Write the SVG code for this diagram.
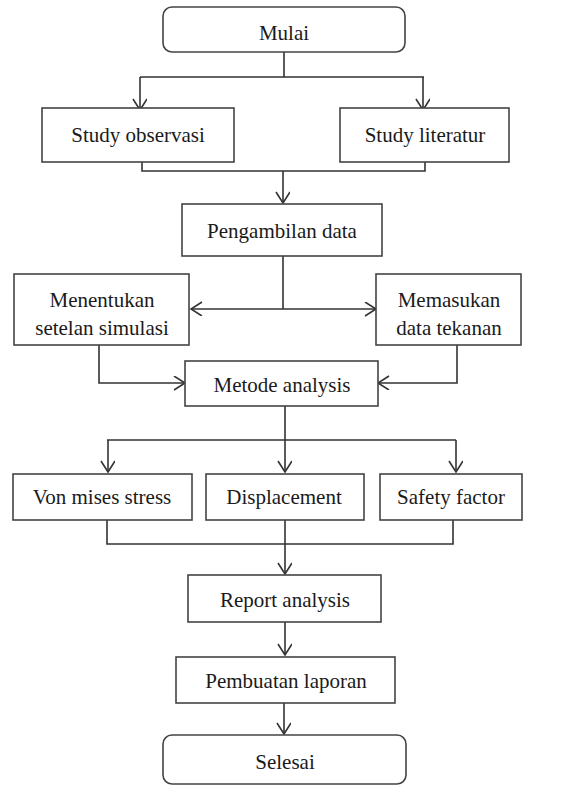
<svg xmlns="http://www.w3.org/2000/svg" width="577" height="787" viewBox="0 0 577 787">
<defs>
<marker id="arr" markerWidth="16" markerHeight="16" refX="12" refY="7" orient="auto" markerUnits="userSpaceOnUse">
<path d="M1,0 L12,7 L1,14" fill="none" stroke="#333" stroke-width="1.6"/>
</marker>
<style>
.box{fill:#fff;stroke:#444;stroke-width:1.6}
.t{font-family:"Liberation Serif",serif;font-size:21px;fill:#1a1a1a;text-anchor:middle}
.c{fill:none;stroke:#333;stroke-width:1.6}
</style>
</defs>
<rect width="577" height="787" fill="#fff"/>
<g id="connectors">
<path class="c" d="M284,52 V77 M140,77 H424"/>
<path class="c" d="M140,77 V110" marker-end="url(#arr)"/>
<path class="c" d="M423,77 V110" marker-end="url(#arr)"/>
<path class="c" d="M142,162 V171 H425 V162"/>
<path class="c" d="M283,171 V203" marker-end="url(#arr)"/>
<path class="c" d="M283,256 V309"/>
<path class="c" d="M283,309 H191" marker-end="url(#arr)"/>
<path class="c" d="M283,309 H376" marker-end="url(#arr)"/>
<path class="c" d="M99,345 V383 H185" marker-end="url(#arr)"/>
<path class="c" d="M457,345 V383 H378" marker-end="url(#arr)"/>
<path class="c" d="M285,406 V440 M107,440 H456"/>
<path class="c" d="M108,440 V472" marker-end="url(#arr)"/>
<path class="c" d="M285,440 V472" marker-end="url(#arr)"/>
<path class="c" d="M456,440 V472" marker-end="url(#arr)"/>
<path class="c" d="M107,520 V544 H453 V520"/>
<path class="c" d="M285,520 V574" marker-end="url(#arr)"/>
<path class="c" d="M285,622 V655" marker-end="url(#arr)"/>
<path class="c" d="M284,703 V734" marker-end="url(#arr)"/>
</g>
<g id="mulai"><rect class="box" x="163" y="7" width="242" height="45" rx="9"/><text class="t" x="284" y="40">Mulai</text></g>
<g id="study-observasi"><rect class="box" x="42" y="108" width="192" height="54"/><text class="t" x="138" y="142">Study observasi</text></g>
<g id="study-literatur"><rect class="box" x="340" y="108" width="169" height="54"/><text class="t" x="425" y="142">Study literatur</text></g>
<g id="pengambilan-data"><rect class="box" x="182" y="204" width="200" height="52"/><text class="t" x="282" y="238">Pengambilan data</text></g>
<g id="menentukan"><rect class="box" x="14" y="274" width="175" height="71"/><text class="t" x="102" y="307">Menentukan</text><text class="t" x="102" y="335">setelan simulasi</text></g>
<g id="memasukan"><rect class="box" x="376" y="274" width="145" height="71"/><text class="t" x="449" y="307">Memasukan</text><text class="t" x="449" y="335">data tekanan</text></g>
<g id="metode-analysis"><rect class="box" x="185" y="361" width="193" height="45"/><text class="t" x="282" y="392">Metode analysis</text></g>
<g id="von-mises"><rect class="box" x="13" y="474" width="179" height="46"/><text class="t" x="102" y="504">Von mises stress</text></g>
<g id="displacement"><rect class="box" x="206" y="474" width="158" height="46"/><text class="t" x="284" y="504">Displacement</text></g>
<g id="safety-factor"><rect class="box" x="380" y="474" width="142" height="46"/><text class="t" x="451" y="504">Safety factor</text></g>
<g id="report-analysis"><rect class="box" x="188" y="575" width="193" height="47"/><text class="t" x="285" y="607">Report analysis</text></g>
<g id="pembuatan-laporan"><rect class="box" x="176" y="657" width="219" height="46"/><text class="t" x="286" y="688">Pembuatan laporan</text></g>
<g id="selesai"><rect class="box" x="163" y="735" width="243" height="49" rx="9"/><text class="t" x="285" y="769">Selesai</text></g>
</svg>
